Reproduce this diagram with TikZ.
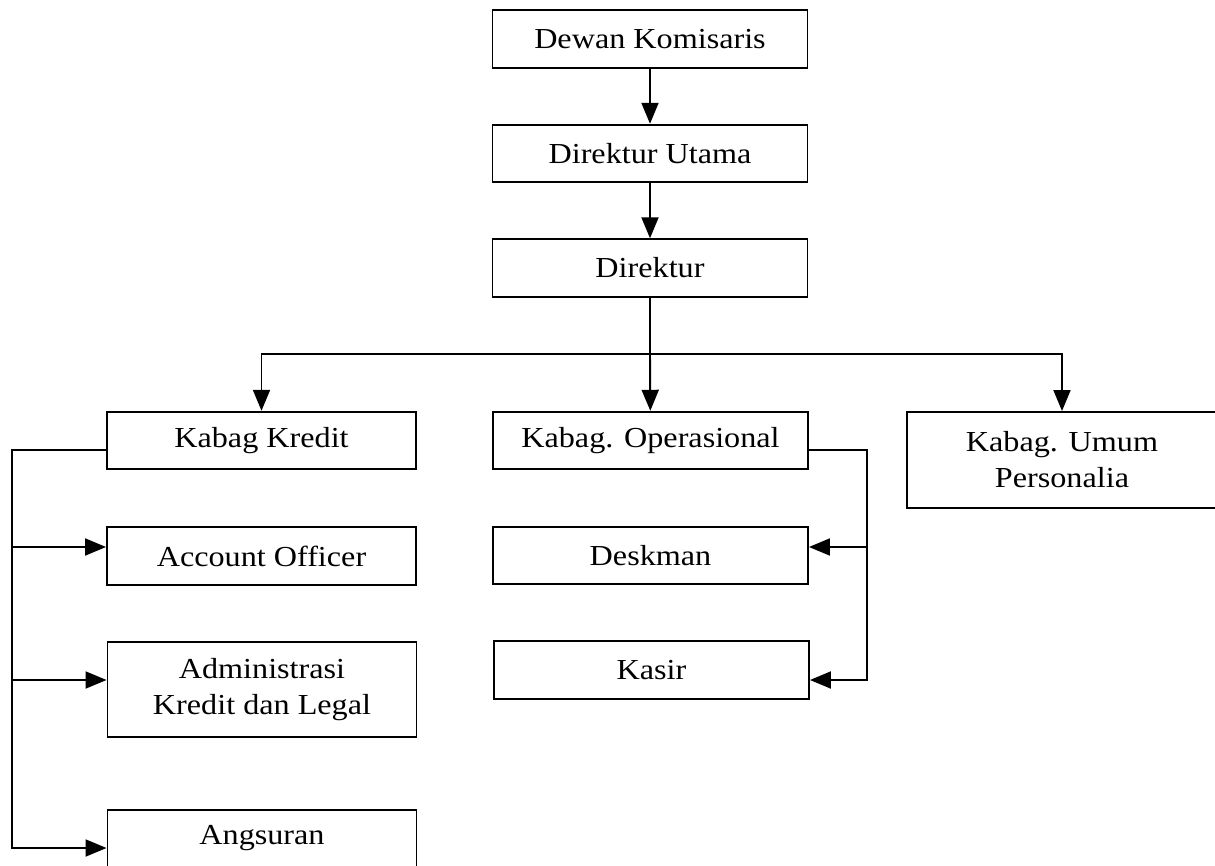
\documentclass[tikz,border=0pt]{standalone}
\usepackage{fontspec}
\setmainfont[FakeStretch=1.11]{Liberation Serif}
\usepackage{tikz}
\usetikzlibrary{arrows.meta, calc}

\begin{document}
\begin{tikzpicture}[>={Triangle[length=0.42cm, width=0.34cm]}, line width=1.1pt, node distance=2.29cm]
\tikzstyle{box}=[draw=black, fill=white, align=center, inner sep=0pt, minimum height=1.15cm, font=\fontsize{16.5}{20.4}\selectfont]
\tikzstyle{lbox}=[box, minimum width=6.18cm]
\tikzstyle{mbox}=[box, minimum width=6.3cm]
\useasboundingbox (0,0) rectangle (24.3,-17.32);

% top chain
\node[mbox] (dk) at (13,-0.78) {Dewan Komisaris};
\node[mbox] (du) [below of=dk] {Direktur Utama};
\node[mbox] (dir) [below of=du] {Direktur};

% kabag
\node[lbox] (kk) at (5.23,-8.81) {Kabag Kredit};
\node[mbox] (ko) at (13.01,-8.81) {Kabag. Operasional};
\node[box, minimum width=6.2cm, minimum height=1.92cm] (ku) at (21.24,-9.2) {Kabag. Umum\\Personalia};

% under kredit
\node[lbox] (ao) at (5.23,-11.12) {Account Officer};
\node[lbox, minimum height=1.9cm] (akl) at (5.24,-13.79) {Administrasi\\Kredit dan Legal};
\node[lbox] (ang) at (5.24,-16.77) {Angsuran};

% under operasional
\node[mbox] (ds) at (13.01,-11.11) {Deskman};
\node[mbox] (ks) at (13.03,-13.4) {Kasir};

\path[->] (dk) edge node {} (du);
\path[->] (du) edge node {} (dir);

\coordinate (hub) at (13,-7.08);
\draw (dir) -- (hub);
\draw[->] (hub) -- (ko);
\draw[->] (hub) -| (kk);
\draw[->] (hub) -| (ku);

% left bus
\coordinate (lbus) at (0.24,0);
\coordinate (kkout) at ([yshift=-0.19cm]kk.west);
\coordinate (aoin) at ([yshift=0.18cm]ao.west);
\coordinate (aklin) at ([yshift=0.19cm]akl.west);
\coordinate (angin) at ([yshift=-0.19cm]ang.west);
\draw[->] (kkout) -| (lbus |- angin) -- (angin);
\draw[->] (lbus |- aoin) -- (aoin);
\draw[->] (lbus |- aklin) -- (aklin);

% right bus
\coordinate (rbus) at (17.34,0);
\coordinate (koout) at ([yshift=-0.19cm]ko.east);
\coordinate (dsin) at ([yshift=0.17cm]ds.east);
\coordinate (ksin) at ([yshift=-0.2cm]ks.east);
\draw[->] (koout) -| (rbus |- ksin) -- (ksin);
\draw[->] (rbus |- dsin) -- (dsin);
\end{tikzpicture}
\end{document}
